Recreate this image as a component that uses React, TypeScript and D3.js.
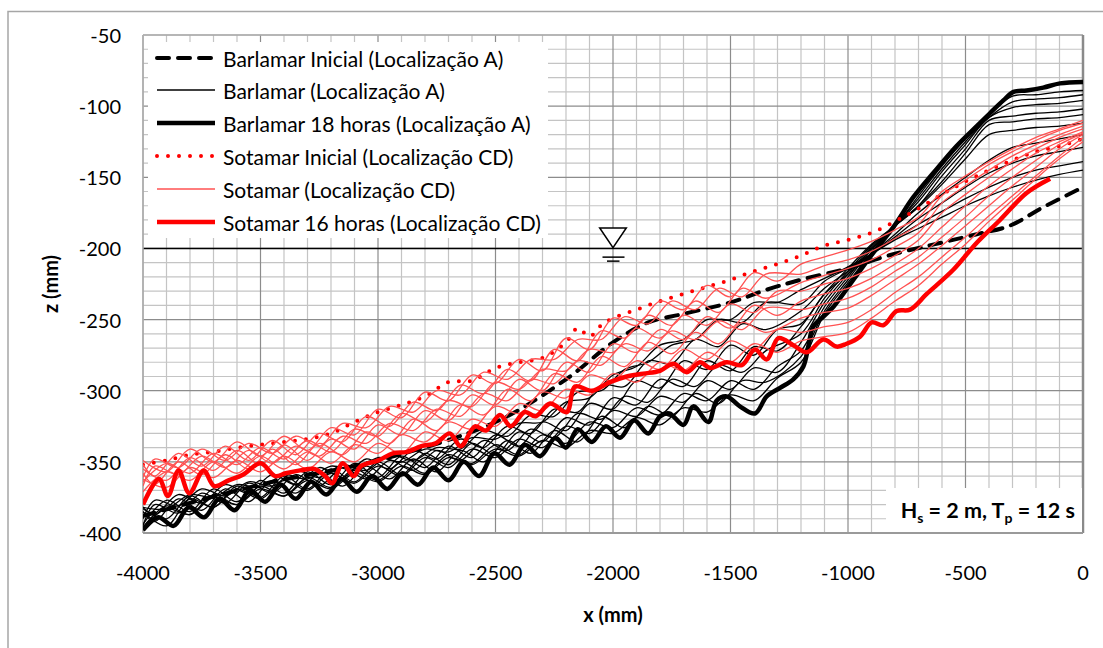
import React from "react";
import * as d3 from "d3";

// ---------- axis / tick data ----------
const X_TICKS = [-4000, -3500, -3000, -2500, -2000, -1500, -1000, -500, 0];
const Z_TICKS = [-400, -350, -300, -250, -200, -150, -100, -50];
const WATER_LEVEL = -200;

// x grids (mm) for the intermediate profiles (two survey point sets)
const X_GRID = [-4000, -3900, -3800, -3700, -3600, -3500, -3400, -3300, -3200, -3100, -3000, -2900, -2800, -2700, -2600, -2500, -2400, -2300, -2200, -2100, -2000, -1900, -1800, -1700, -1600, -1500, -1400, -1300, -1200, -1100, -1000, -900, -800, -700, -600, -500, -400, -300, -200, -100, 0];
const X_GRID_B = [-4000, -3950, -3850, -3750, -3650, -3550, -3450, -3350, -3250, -3150, -3050, -2950, -2850, -2750, -2650, -2550, -2450, -2350, -2250, -2150, -2050, -1950, -1850, -1750, -1650, -1550, -1450, -1350, -1200, -1100, -1000, -900, -800, -700, -600, -500, -400, -300, -200, -100, 0];

// ---------- Barlamar (Localização A) ----------
const BAR_INI_X = [-4000, -3500, -3000, -2500, -2200, -2000, -1850, -1700, -1500, -1346, -1200, -1000, -828, -630, -452, -311, -169, 0];
const BAR_INI_Z = [-388, -366, -349, -322, -292, -266, -252, -246, -238, -229, -222, -214, -205, -197, -190, -184, -171, -157];

const BAR_1 = [-382, -383, -373, -375, -366, -368, -359, -362, -353, -356, -347, -350, -341, -343, -333, -334, -323, -322, -308, -305, -289, -283, -268, -264, -250, -250, -238, -238, -229, -221, -213, -204, -194, -186, -178, -170, -163, -157, -152, -148, -145];
const BAR_2 = [-390, -377, -381, -369, -374, -364, -367, -356, -361, -352, -356, -345, -349, -340, -341, -328, -332, -317, -318, -301, -300, -285, -280, -268, -264, -250, -252, -238, -239, -223, -214, -204, -193, -183, -174, -165, -157, -150, -145, -142, -139];
const BAR_3 = [-382, -387, -373, -379, -366, -372, -359, -366, -354, -361, -348, -355, -342, -348, -334, -340, -325, -330, -313, -315, -296, -297, -279, -281, -264, -269, -253, -257, -244, -228, -216, -204, -192, -179, -168, -157, -147, -140, -135, -132, -129];
const BAR_4 = [-394, -377, -385, -369, -378, -363, -372, -357, -366, -351, -361, -346, -354, -339, -347, -331, -339, -322, -328, -309, -313, -293, -298, -279, -285, -268, -275, -257, -253, -232, -218, -204, -190, -175, -162, -150, -138, -129, -126, -123, -120];
const BAR_5 = [-383, -390, -374, -382, -367, -375, -360, -369, -355, -364, -350, -359, -344, -352, -337, -345, -329, -336, -319, -324, -305, -310, -292, -297, -279, -286, -269, -272, -255, -232, -214, -197, -184, -171, -155, -137, -120, -117, -115, -114, -112];
const BAR_6 = [-395, -380, -386, -372, -379, -365, -372, -359, -367, -354, -362, -349, -356, -342, -349, -335, -342, -327, -333, -316, -320, -304, -308, -292, -297, -282, -287, -272, -260, -235, -216, -198, -184, -170, -153, -133, -113, -111, -109, -108, -106];
const BAR_7 = [-385, -395, -376, -382, -369, -376, -363, -370, -358, -365, -353, -360, -347, -354, -341, -347, -334, -340, -325, -330, -314, -318, -304, -308, -293, -299, -284, -287, -266, -238, -218, -199, -184, -170, -149, -130, -110, -107, -105, -104, -102];
const BAR_8 = [-396, -381, -387, -373, -380, -367, -374, -361, -368, -355, -363, -350, -358, -345, -351, -338, -345, -331, -337, -322, -326, -312, -317, -302, -307, -293, -299, -283, -272, -241, -220, -200, -184, -167, -146, -127, -108, -101, -99, -98, -96];
const BAR_9 = [-385, -392, -376, -384, -369, -378, -363, -372, -358, -367, -353, -362, -348, -357, -342, -350, -335, -344, -328, -336, -318, -326, -311, -318, -302, -309, -293, -294, -276, -244, -222, -201, -184, -165, -144, -125, -108, -97, -95, -94, -92];
const BAR_10 = [-396, -383, -387, -375, -380, -369, -374, -363, -369, -358, -364, -353, -359, -347, -352, -341, -346, -335, -340, -328, -330, -319, -324, -312, -315, -303, -307, -291, -280, -246, -224, -203, -185, -163, -142, -123, -106, -93, -92, -90, -89];
const BAR_PROFILES: [number[], number[]][] = [
  [X_GRID, BAR_1], [X_GRID_B, BAR_2], [X_GRID_B, BAR_3], [X_GRID, BAR_4], [X_GRID, BAR_5],
  [X_GRID_B, BAR_6], [X_GRID, BAR_7], [X_GRID, BAR_8], [X_GRID_B, BAR_9], [X_GRID, BAR_10],
];

const BAR_18H_X = [-4000, -3935, -3870, -3805, -3740, -3675, -3610, -3545, -3480, -3415, -3350, -3285, -3220, -3155, -3090, -3025, -2960, -2895, -2830, -2765, -2700, -2635, -2570, -2505, -2440, -2375, -2310, -2245, -2200, -2150, -2090, -2030, -1970, -1910, -1850, -1800, -1760, -1700, -1658, -1594, -1559, -1516, -1460, -1396, -1346, -1289, -1233, -1190, -1169, -1148, -1105, -1062, -977, -892, -807, -722, -637, -538, -452, -396, -339, -296, -240, -169, -98, 0];
const BAR_18H_Z = [-398, -389, -395, -382, -389, -376, -384, -370, -378, -366, -376, -364, -373, -362, -371, -360, -369, -358, -366, -354, -363, -350, -360, -344, -352, -338, -346, -333, -340, -327, -336, -325, -333, -321, -330, -318, -316, -324, -311, -322, -307, -304, -311, -316, -304, -298, -292, -283, -269, -255, -248, -241, -222, -203, -185, -164, -147, -128, -114, -105, -96, -90, -89, -87, -84, -83];

// ---------- Sotamar (Localização CD) ----------
const SOT_INI_X = [-4000, -3900, -3800, -3700, -3600, -3500, -3400, -3300, -3200, -3100, -3000, -2900, -2800, -2700, -2600, -2500, -2400, -2300, -2200, -2150, -2100, -2050, -2000, -1900, -1800, -1700, -1600, -1500, -1400, -1300, -1200, -1100, -1000, -900, -800, -700, -600, -500, -400, -300, -200, -100, 0];
const SOT_INI_Z = [-352, -349, -345, -343, -340, -338, -336, -334, -330, -322, -315, -310, -304, -294, -293, -284, -280, -277, -266, -256, -262, -254, -249, -243, -237, -232, -227, -222, -216, -211, -205, -198, -194, -189, -181, -172, -162, -153, -145, -138, -132, -128, -123];

const SOT_1 = [-349, -357, -341, -350, -336, -346, -332, -342, -326, -331, -313, -319, -301, -307, -289, -295, -278, -286, -263, -271, -249, -254, -237, -243, -226, -234, -217, -223, -211, -206, -201, -195, -187, -178, -160, -149, -139, -130, -122, -116, -110];
const SOT_2 = [-361, -348, -354, -341, -349, -337, -344, -332, -339, -323, -326, -311, -315, -300, -303, -287, -292, -278, -278, -264, -264, -248, -253, -237, -243, -228, -234, -218, -218, -212, -208, -202, -193, -183, -163, -152, -141, -132, -124, -117, -112];
const SOT_3 = [-352, -360, -344, -353, -339, -349, -335, -345, -330, -336, -318, -325, -308, -314, -296, -302, -285, -293, -271, -279, -258, -263, -247, -254, -237, -245, -228, -235, -224, -219, -214, -208, -199, -189, -168, -156, -145, -135, -127, -120, -114];
const SOT_4 = [-364, -351, -358, -344, -352, -340, -348, -335, -343, -327, -332, -316, -322, -307, -311, -294, -299, -285, -286, -271, -273, -256, -263, -247, -254, -239, -245, -230, -230, -225, -221, -214, -205, -194, -175, -162, -150, -139, -130, -122, -116];
const SOT_5 = [-355, -363, -347, -356, -342, -352, -338, -349, -334, -341, -324, -331, -314, -321, -303, -310, -292, -300, -280, -287, -267, -273, -257, -264, -248, -256, -240, -247, -237, -232, -228, -221, -211, -200, -185, -170, -156, -144, -133, -125, -118];
const SOT_6 = [-367, -353, -359, -346, -354, -342, -351, -339, -346, -332, -337, -323, -328, -313, -318, -302, -307, -292, -295, -279, -282, -267, -272, -258, -264, -251, -257, -242, -243, -239, -235, -227, -216, -206, -192, -178, -163, -150, -138, -127, -119];
const SOT_7 = [-358, -366, -350, -359, -345, -355, -341, -352, -337, -345, -329, -337, -320, -328, -310, -317, -299, -307, -288, -294, -276, -283, -266, -274, -259, -267, -252, -259, -249, -245, -242, -233, -222, -211, -198, -184, -170, -156, -143, -130, -120];
const SOT_8 = [-371, -357, -363, -350, -358, -346, -355, -343, -351, -338, -344, -331, -336, -322, -327, -311, -316, -301, -305, -289, -293, -279, -285, -271, -278, -265, -271, -257, -259, -255, -252, -243, -231, -220, -206, -192, -177, -163, -149, -135, -122];
const SOT_9 = [-362, -368, -354, -361, -349, -357, -346, -355, -343, -350, -337, -344, -329, -335, -320, -325, -309, -314, -299, -303, -288, -294, -280, -286, -273, -280, -267, -273, -265, -262, -259, -249, -237, -226, -211, -197, -181, -166, -151, -137, -125];
const SOT_PROFILES: [number[], number[]][] = [
  [X_GRID, SOT_1], [X_GRID_B, SOT_2], [X_GRID_B, SOT_3], [X_GRID, SOT_4], [X_GRID, SOT_5],
  [X_GRID_B, SOT_6], [X_GRID_B, SOT_7], [X_GRID, SOT_8], [X_GRID, SOT_9],
];

const SOT_16H_X = [-4000, -3932, -3894, -3849, -3803, -3742, -3697, -3636, -3575, -3499, -3438, -3393, -3332, -3271, -3225, -3195, -3150, -3104, -3073, -2998, -2937, -2876, -2815, -2755, -2694, -2648, -2587, -2541, -2481, -2435, -2375, -2329, -2268, -2197, -2162, -2090, -2013, -1942, -1871, -1800, -1743, -1686, -1630, -1587, -1516, -1452, -1396, -1346, -1296, -1233, -1176, -1105, -1048, -1006, -949, -899, -850, -793, -736, -665, -552, -452, -353, -240, -140];
const SOT_16H_Z = [-380, -362, -374, -356, -372, -356, -367, -363, -359, -351, -360, -358, -356, -355, -360, -365, -351, -360, -353, -349, -344, -343, -339, -337, -330, -339, -325, -328, -317, -325, -315, -318, -309, -315, -297, -300, -294, -290, -288, -286, -281, -287, -280, -284, -280, -282, -271, -278, -263, -268, -273, -264, -269, -267, -262, -252, -254, -244, -243, -232, -215, -196, -180, -161, -151];

const LEGEND_LABELS = [
  "Barlamar Inicial (Localização A)",
  "Barlamar (Localização A)",
  "Barlamar 18 horas (Localização A)",
  "Sotamar Inicial (Localização CD)",
  "Sotamar (Localização CD)",
  "Sotamar 16 horas (Localização CD)",
];

const FONT = "Lato, 'Open Sans', sans-serif";
const RED_THIN = "#ff5252";

type Style = { stroke: string; width: number; dash?: string; cap?: "round" | "butt" };
const STYLES: Style[] = [
  { stroke: "#000", width: 4, dash: "12 9", cap: "round" },
  { stroke: "#000", width: 1.3 },
  { stroke: "#000", width: 4.5 },
  { stroke: "#ff0000", width: 4, dash: "0 11", cap: "round" },
  { stroke: RED_THIN, width: 1.3 },
  { stroke: "#ff0000", width: 4.5 },
];

export default function App() {
  const left = 143, right = 1083, top = 35, bottom = 533;
  const x = d3.scaleLinear().domain([-4000, 0]).range([left, right]);
  const y = d3.scaleLinear().domain([-400, -50]).range([bottom, top]);
  const line = d3
    .line<[number, number]>()
    .x((d) => x(d[0]))
    .y((d) => y(d[1]))
    .curve(d3.curveCatmullRom.alpha(0.5));

  const zip = (xs: number[], zs: number[]) => xs.map((v, i) => [v, zs[i]] as [number, number]);

  const minorX = d3.range(-4000, 1, 100).filter((v) => v % 500 !== 0);
  const minorZ = d3.range(-400, -49, 10).filter((v) => v % 50 !== 0);

  const path = (d: [number, number][], s: Style, key: string) => (
    <path
      key={key}
      d={line(d) || ""}
      fill="none"
      stroke={s.stroke}
      strokeWidth={s.width}
      strokeDasharray={s.dash}
      strokeLinecap={s.cap || "butt"}
      strokeLinejoin="round"
    />
  );

  const legendY = [58, 90, 123, 156, 189, 222];
  const wx = x(-2000), wy = y(WATER_LEVEL);

  return (
    <div style={{ position: "absolute", left: 0, top: 0 }}>
      <svg width={1103} height={648} style={{ display: "block", background: "#fff" }} fontFamily={FONT}>
        <rect x={8} y={11.5} width={1200} height={700} fill="#fff" stroke="#a6a6a6" strokeWidth={1.5} />
        <defs>
          <clipPath id="plot">
            <rect x={left} y={top} width={right - left} height={bottom - top} />
          </clipPath>
        </defs>
        {/* grid */}
        {minorX.map((v) => (
          <line key={"mx" + v} x1={x(v)} x2={x(v)} y1={top} y2={bottom} stroke="#c4c4c4" strokeWidth={1.2} />
        ))}
        {minorZ.map((v) => (
          <line key={"mz" + v} x1={left} x2={right} y1={y(v)} y2={y(v)} stroke="#c4c4c4" strokeWidth={1.2} />
        ))}
        {X_TICKS.map((v) => (
          <line key={"Mx" + v} x1={x(v)} x2={x(v)} y1={top} y2={bottom} stroke="#8c8c8c" strokeWidth={1.2} />
        ))}
        {Z_TICKS.map((v) => (
          <line key={"Mz" + v} x1={left} x2={right} y1={y(v)} y2={y(v)} stroke="#8c8c8c" strokeWidth={1.2} />
        ))}
        <line x1={left} x2={right} y1={wy} y2={wy} stroke="#000" strokeWidth={1.5} />
        <line x1={left} x2={right} y1={top} y2={top} stroke="#b0b0b0" strokeWidth={1.5} />
        <line x1={left} x2={left} y1={top} y2={bottom} stroke="#b0b0b0" strokeWidth={1.5} />
        <line x1={right} x2={right} y1={top} y2={bottom} stroke="#8a8a8a" strokeWidth={2.5} />
        <line x1={left} x2={right} y1={bottom} y2={bottom} stroke="#9a9a9a" strokeWidth={1.8} />

        {/* data */}
        <g clipPath="url(#plot)">
          {path(zip(BAR_INI_X, BAR_INI_Z), STYLES[0], "bi")}
          {BAR_PROFILES.map(([gx, p], i) => path(zip(gx, p), STYLES[1], "b" + i))}
          {path(zip(BAR_18H_X, BAR_18H_Z), STYLES[2], "b18")}
          {path(zip(SOT_INI_X, SOT_INI_Z), STYLES[3], "si")}
          {SOT_PROFILES.map(([gx, p], i) => path(zip(gx, p), STYLES[4], "s" + i))}
          {path(zip(SOT_16H_X, SOT_16H_Z), STYLES[5], "s16")}
        </g>

        {/* water level symbol */}
        <polygon
          points={`${wx - 13.3},${wy - 20.5} ${wx + 13.3},${wy - 20.5} ${wx},${wy - 0.7}`}
          fill="#fff"
          stroke="#000"
          strokeWidth={1.5}
        />
        <line x1={wx - 10.5} x2={wx + 11.5} y1={wy + 8.7} y2={wy + 8.7} stroke="#000" strokeWidth={1.5} />
        <line x1={wx - 6} x2={wx + 6.5} y1={wy + 12.7} y2={wy + 12.7} stroke="#000" strokeWidth={1.5} />

        {/* legend */}
        <rect x={148} y={42} width={400} height={196} fill="#fff" />
        {LEGEND_LABELS.map((lab, i) => (
          <g key={lab}>
            <line
              x1={157}
              x2={STYLES[i].dash === "0 11" ? 213 : 215}
              y1={legendY[i]}
              y2={legendY[i]}
              stroke={STYLES[i].stroke}
              strokeWidth={STYLES[i].width}
              strokeDasharray={STYLES[i].dash}
              strokeLinecap={STYLES[i].cap || "butt"}
            />
            <text x={223} y={legendY[i]} dominantBaseline="central" fontSize={21} fill="#000">
              {lab}
            </text>
          </g>
        ))}

        {/* annotation */}
        <rect x={886} y={488} width={196} height={44} fill="#fff" />
        <text x={1075} y={518} textAnchor="end" fontSize={21.5} fontWeight="bold" fill="#000">
          H<tspan fontSize={14} dy={5}>s</tspan>
          <tspan dy={-5}> = 2 m, T</tspan>
          <tspan fontSize={14} dy={5}>p</tspan>
          <tspan dy={-5}> = 12 s</tspan>
        </text>

        {/* axes labels */}
        {Z_TICKS.map((v) => (
          <text key={"zl" + v} x={121} y={y(v)} textAnchor="end" dominantBaseline="central" fontSize={20} fill="#000">
            {v}
          </text>
        ))}
        {X_TICKS.map((v) => (
          <text key={"xl" + v} x={x(v)} y={572} textAnchor="middle" dominantBaseline="central" fontSize={20} fill="#000">
            {v}
          </text>
        ))}
        <text x={613} y={614} textAnchor="middle" dominantBaseline="central" fontSize={20} fontWeight="bold">
          x (mm)
        </text>
        <text
          transform={`translate(50,284) rotate(-90)`}
          textAnchor="middle"
          dominantBaseline="central"
          fontSize={20}
          fontWeight="bold"
        >
          z (mm)
        </text>
      </svg>
    </div>
  );
}
